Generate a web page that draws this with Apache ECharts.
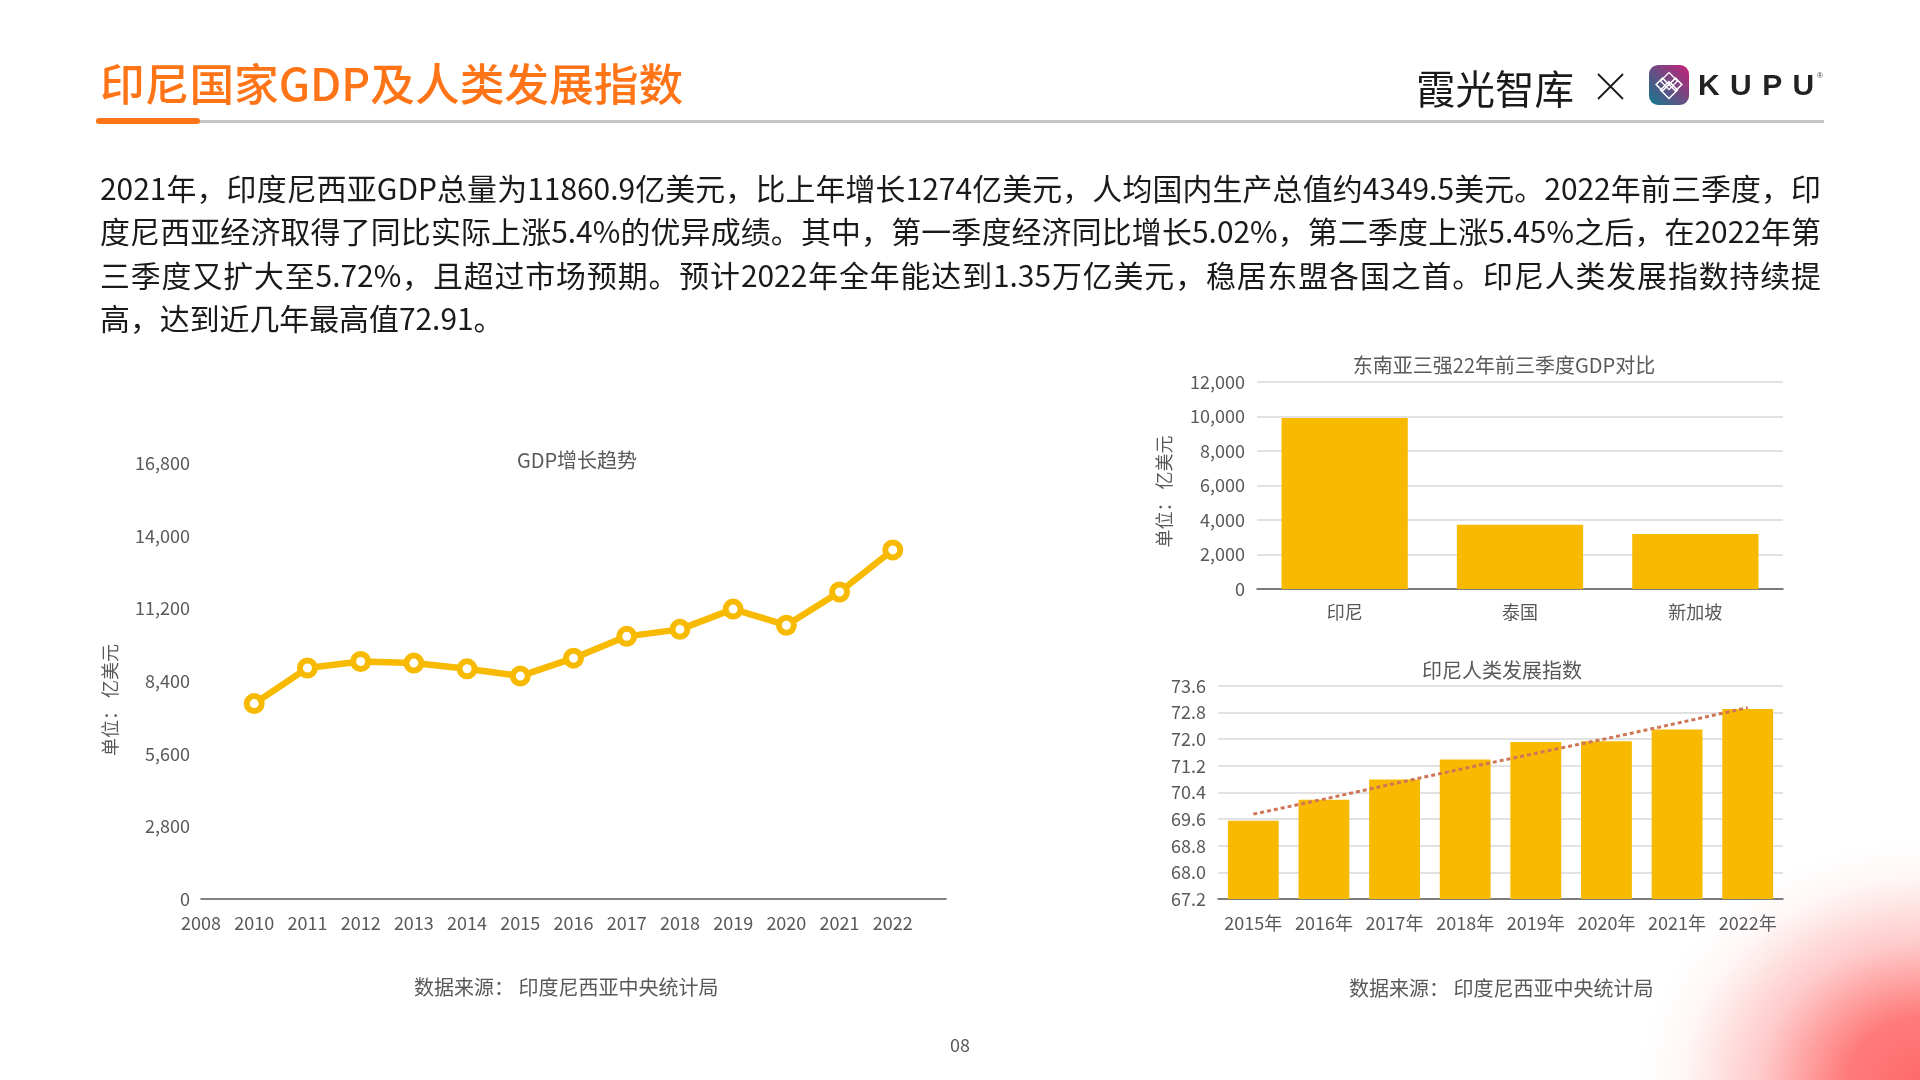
<!DOCTYPE html>
<html>
<head>
<meta charset="utf-8">
<title>印尼国家GDP及人类发展指数</title>
<script src="https://cdn.jsdelivr.net/npm/echarts@6/dist/echarts.min.js"></script>
<style>
    html, body { margin: 0; padding: 0; }
    body {
        position: relative;
        width: 1920px;
        height: 1080px;
        overflow: hidden;
        font-family: 'Noto Sans CJK SC', sans-serif;
        background:
            radial-gradient(ellipse 285px 245px at 1925px 1085px, rgba(255,104,104,1) 0%, rgba(255,112,112,.92) 28%, rgba(255,150,150,.5) 58%, rgba(255,200,200,.15) 85%, rgba(255,255,255,0) 100%),
            #fff;
    }
    .abs { position: absolute; }
    #chart { left: 0; top: 0; width: 1920px; height: 1080px; }
    #pageTitle { left: 100px; top: 49px; font-size: 44.7px; line-height: 66px; font-weight: 500; color: #ff7417; white-space: nowrap; }
    #rule { left: 96px; top: 120px; width: 1728px; height: 3px; background: #c6c6c6; }
    #pill { left: 96px; top: 118px; width: 104px; height: 6px; border-radius: 3px; background: #ff7417; }
    #brand { left: 1416px; top: 58px; font-size: 39.5px; line-height: 58px; color: #1a1a1a; white-space: nowrap; }
    #kupu { left: 1698px; top: 64px; font-family: 'Liberation Sans', sans-serif; font-size: 30px; line-height: 42px; font-weight: 700; letter-spacing: 10.4px; color: #222; white-space: nowrap; }
    #reg { left: 1817px; top: 71px; font-family: 'Liberation Sans', sans-serif; font-size: 8px; line-height: 10px; color: #444; }
    #logo { left: 1649px; top: 65px; width: 40px; height: 40px; }
    #cross { left: 1597px; top: 73px; width: 27px; height: 27px; }
    #body { left: 100px; top: 166px; width: 1721px; font-size: 29.9px; line-height: 43.3px; color: #1a1a1a; }
    #body div { text-align: justify; text-align-last: justify; white-space: nowrap; }
    #body div:last-child { text-align-last: left; }
    #pageNo { left: 930px; top: 1031px; width: 60px; text-align: center; font-size: 18px; line-height: 26px; color: #595959; }
</style>
</head>
<body>
<div id="chart" class="abs"></div>
<div id="pageTitle" class="abs">印尼国家GDP及人类发展指数</div>
<div id="rule" class="abs"></div>
<div id="pill" class="abs"></div>
<div id="brand" class="abs">霞光智库</div>
<svg id="cross" class="abs" viewBox="0 0 27 27"><path d="M1 1 L26 26 M26 1 L1 26" stroke="#1a1a1a" stroke-width="1.8" fill="none"/></svg>
<svg id="logo" class="abs" viewBox="0 0 40 40">
    <defs>
        <linearGradient id="logoFill" x1="0" y1="1" x2="1" y2="0">
            <stop offset="0" stop-color="#0f7a8e"/>
            <stop offset="1" stop-color="#c81f78"/>
        </linearGradient>
    </defs>
    <rect width="40" height="40" rx="9" fill="url(#logoFill)"/>
    <g fill="none" stroke="#fff" stroke-width="1.5">
        <rect x="14" y="10" width="12" height="12" transform="rotate(45 20 16)" opacity=".9"/>
        <rect x="9" y="15" width="9" height="9" transform="rotate(45 13.5 19.5)"/>
        <rect x="22" y="15" width="9" height="9" transform="rotate(45 26.5 19.5)"/>
        <rect x="14" y="19" width="12" height="12" transform="rotate(45 20 25)"/>
    </g>
</svg>
<div id="kupu" class="abs">KUPU</div>
<div id="reg" class="abs">®</div>
<div id="body" class="abs">
    <div>2021年，印度尼西亚GDP总量为11860.9亿美元，比上年增长1274亿美元，人均国内生产总值约4349.5美元。2022年前三季度，印</div>
    <div>度尼西亚经济取得了同比实际上涨5.4%的优异成绩。其中，第一季度经济同比增长5.02%，第二季度上涨5.45%之后，在2022年第</div>
    <div>三季度又扩大至5.72%，且超过市场预期。预计2022年全年能达到1.35万亿美元，稳居东盟各国之首。印尼人类发展指数持续提</div>
    <div>高，达到近几年最高值72.91。</div>
</div>
<div id="pageNo" class="abs">08</div>
<script>
    const gdpYears = ['2008', '2010', '2011', '2012', '2013', '2014', '2015', '2016', '2017', '2018', '2019', '2020', '2021', '2022', ''];
    const gdpValues = [null, 7530, 8900, 9150, 9090, 8870, 8590, 9280, 10120, 10390, 11170, 10550, 11830, 13450, null];

    const peerNames = ['印尼', '泰国', '新加坡'];
    const peerValues = [9920, 3720, 3190];

    const hdiYears = ['2015年', '2016年', '2017年', '2018年', '2019年', '2020年', '2021年', '2022年'];
    const hdiValues = [69.55, 70.18, 70.79, 71.39, 71.92, 71.94, 72.29, 72.91];
    const hdiTrend = [69.75, 70.2, 70.67, 71.13, 71.58, 72.02, 72.48, 72.95];

    const yellow = '#f7ba00';
    const grey = '#595959';
    const font = 'Noto Sans CJK SC';

    const labelStyle = { color: grey, fontSize: 18, fontFamily: font };
    const titleStyle = { color: grey, fontSize: 20, fontWeight: 'normal', fontFamily: font };
    const axisLine = { show: true, lineStyle: { color: '#595959', width: 1.5 } };
    const split = { show: true, lineStyle: { color: '#d9d9d9', width: 1.5 } };
    const thousands = v => v.toLocaleString('en-US');

    const chart = echarts.init(document.getElementById('chart'));

    const option = {
        animation: false,
        title: [
            { text: 'GDP增长趋势', left: 572, top: 445, textAlign: 'center', textStyle: titleStyle },
            { text: '东南亚三强22年前三季度GDP对比', left: 1499, top: 350, textAlign: 'center', textStyle: titleStyle },
            { text: '印尼人类发展指数', left: 1497, top: 655, textAlign: 'center', textStyle: titleStyle }
        ],
        grid: [
            { left: 201, top: 463, width: 745, height: 436 },
            { left: 1257, top: 382, width: 526, height: 207 },
            { left: 1218, top: 686, width: 565, height: 213 }
        ],
        xAxis: [
            {
                gridIndex: 0,
                type: 'category',
                boundaryGap: false,
                data: gdpYears,
                axisLine: axisLine,
                axisTick: { show: false },
                axisLabel: Object.assign({ interval: 0, margin: 15 }, labelStyle)
            },
            {
                gridIndex: 1,
                type: 'category',
                data: peerNames,
                axisLine: axisLine,
                axisTick: { show: false },
                axisLabel: Object.assign({ margin: 14 }, labelStyle)
            },
            {
                gridIndex: 2,
                type: 'category',
                data: hdiYears,
                axisLine: axisLine,
                axisTick: { show: false },
                axisLabel: Object.assign({ interval: 0, margin: 15 }, labelStyle)
            }
        ],
        yAxis: [
            {
                gridIndex: 0,
                type: 'value',
                min: 0,
                max: 16800,
                interval: 2800,
                name: '单位： 亿美元',
                nameLocation: 'middle',
                nameGap: 82,
                nameRotate: 90,
                nameTextStyle: Object.assign({ padding: [0, 38, 0, 0] }, labelStyle),
                splitLine: { show: false },
                axisLine: { show: false },
                axisTick: { show: false },
                axisLabel: Object.assign({ margin: 11, formatter: thousands }, labelStyle)
            },
            {
                gridIndex: 1,
                type: 'value',
                min: 0,
                max: 12000,
                interval: 2000,
                name: '单位： 亿美元',
                nameLocation: 'middle',
                nameGap: 84,
                nameRotate: 90,
                nameTextStyle: Object.assign({ padding: [0, 12, 0, 0] }, labelStyle),
                splitLine: split,
                axisLine: { show: false },
                axisTick: { show: false },
                axisLabel: Object.assign({ margin: 12, formatter: thousands }, labelStyle)
            },
            {
                gridIndex: 2,
                type: 'value',
                min: 67.2,
                max: 73.6,
                interval: 0.8,
                splitLine: split,
                axisLine: { show: false },
                axisTick: { show: false },
                axisLabel: Object.assign({ margin: 12, formatter: v => v.toFixed(1) }, labelStyle)
            }
        ],
        series: [
            {
                name: 'GDP',
                type: 'line',
                xAxisIndex: 0,
                yAxisIndex: 0,
                data: gdpValues,
                symbol: 'circle',
                symbolSize: 15,
                lineStyle: { color: yellow, width: 6.5 },
                itemStyle: { color: '#fff', borderColor: yellow, borderWidth: 6 }
            },
            {
                name: '三季度GDP',
                type: 'bar',
                xAxisIndex: 1,
                yAxisIndex: 1,
                data: peerValues,
                barCategoryGap: '28%',
                itemStyle: { color: yellow }
            },
            {
                name: '人类发展指数',
                type: 'bar',
                xAxisIndex: 2,
                yAxisIndex: 2,
                data: hdiValues,
                barCategoryGap: '28%',
                itemStyle: { color: yellow }
            },
            {
                name: '趋势',
                type: 'line',
                xAxisIndex: 2,
                yAxisIndex: 2,
                data: hdiTrend,
                symbol: 'none',
                z: 5,
                lineStyle: { color: '#cf7656', width: 3, type: [4, 3] }
            }
        ],
        graphic: [
            { type: 'text', left: 414, top: 977, style: { text: '数据来源： 印度尼西亚中央统计局', fill: grey, font: '20px "Noto Sans CJK SC"' } },
            { type: 'text', left: 1349, top: 978, style: { text: '数据来源： 印度尼西亚中央统计局', fill: grey, font: '20px "Noto Sans CJK SC"' } }
        ]
    };

    chart.setOption(option);

    window.addEventListener('resize', _ => {
        chart.resize();
    });
</script>
</body>
</html>
